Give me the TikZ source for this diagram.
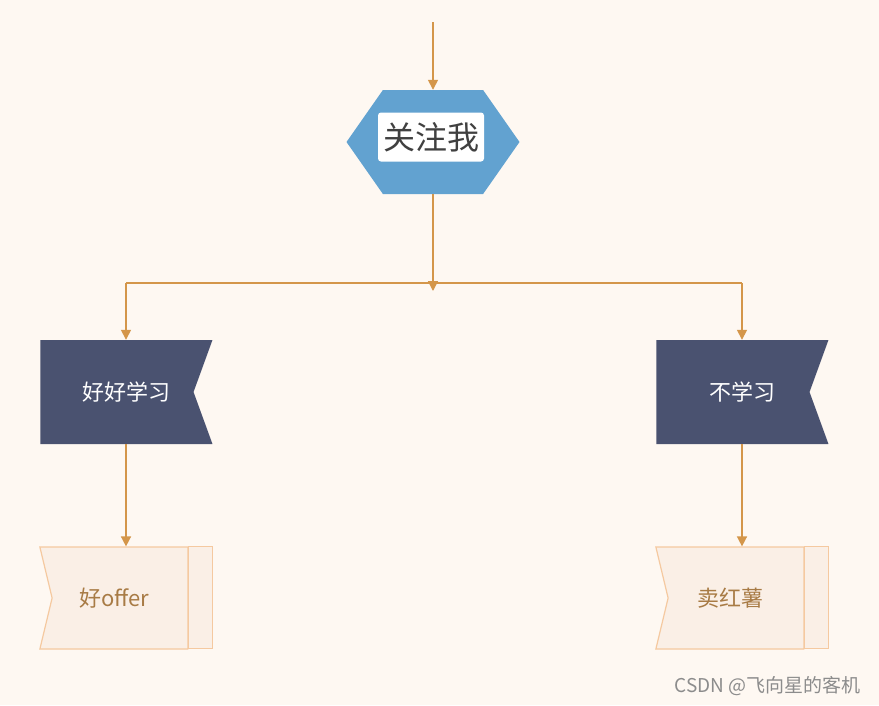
\documentclass[tikz,border=0pt]{standalone}
\usepackage{fontspec}
\setmainfont{Noto Sans CJK SC}
\usetikzlibrary{arrows.meta,shapes.symbols}

\definecolor{bgcol}{HTML}{FEF8F2}
\definecolor{linecol}{HTML}{D4964A}
\definecolor{hexblue}{HTML}{62A2D0}
\definecolor{flagblue}{HTML}{4A5270}
\definecolor{boxfill}{HTML}{FAEFE6}
\definecolor{boxline}{HTML}{F5C9A0}
\definecolor{boxtext}{HTML}{A87B45}

\begin{document}
\begin{tikzpicture}[
  x=1pt, y=-1pt,
  >={Triangle[length=10pt,width=10pt]},
  hexa/.style={shape=signal, signal to=west and east, signal pointer angle=110, fill=hexblue, minimum width=173pt, minimum height=104pt, inner sep=0pt},
  hilite/.style={fill=white, rounded corners=3pt, text=black!75, minimum height=49pt, inner sep=5pt, font=\fontsize{32}{36}\selectfont},
  flag/.style={shape=signal, signal from=east, signal to=nowhere, signal pointer angle=140, fill=flagblue, text=white, minimum width=172pt, minimum height=104pt, inner sep=0pt, font=\fontsize{22}{26}\selectfont},
  result/.style={shape=signal, signal from=west, signal to=nowhere, signal pointer angle=153, draw=boxline, fill=boxfill, text=boxtext, line width=1.2pt, minimum width=148pt, minimum height=102pt, inner sep=0pt, font=\fontsize{22}{26}\selectfont},
  tab/.style={draw=boxline, fill=boxfill, line width=1.2pt},
  wire/.style={draw=linecol, line width=1.5pt},
  arr/.style={->, wire},
  wmark/.style={text=black!45, font=\fontsize{19}{22}\selectfont}
]
\fill[bgcol] (0,0) rectangle (879,705);

\coordinate (top) at (433,22);
\node[hexa] (hex) at (433,142) {};
\node[hilite] (follow) at (431,137) {关注我};
\coordinate (jn) at (433,291);
\coordinate (jl) at (126,283);
\coordinate (jr) at (742,283);

% text sits off the shape centre, so pad it
\node[flag] (study) at (117,392) {\hspace*{18pt}好好学习};
\node[flag] (nostudy) at (733,392) {\hspace*{18pt}不学习};
\node[result] (offer) at (120,598) {好offer\hspace*{12pt}};
\node[result] (yam) at (736,598) {卖红薯\hspace*{12pt}};
\draw[tab] (offer.north east) rectangle ([xshift=24pt]offer.south east);
\draw[tab] (yam.north east) rectangle ([xshift=24pt]yam.south east);

\node[wmark, anchor=east] (credit) at (864,686) {CSDN @飞向星的客机};

\draw[arr] (top) -- (hex);
\draw[arr] (hex) -- (jn);
\draw[wire] (jl) -- (jr);
\draw[arr] (jl) -- (jl |- study.north);
\draw[arr] (jr) -- (jr |- nostudy.north);
\draw[arr] (jl |- study.south) -- (jl |- offer.north);
\draw[arr] (jr |- nostudy.south) -- (jr |- yam.north);
\end{tikzpicture}
\end{document}
